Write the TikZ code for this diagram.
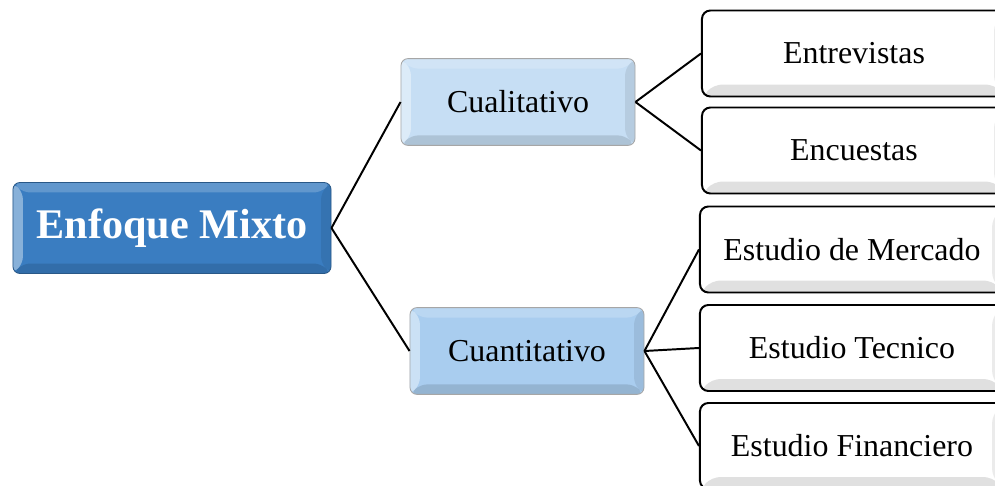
\documentclass[tikz,border=0pt]{standalone}
\usepackage{fontspec}
\setmainfont{Liberation Serif}
\usepackage{xcolor}
\usepackage{tikz}

\definecolor{mixblue}{HTML}{3A7DC1}
\definecolor{cualblue}{HTML}{C6DEF4}
\definecolor{cuanblue}{HTML}{A9CDEF}

\tikzset{
  bevel/.style={path picture={
    % left face
    \fill[white,opacity=.4] (path picture bounding box.south west) -- (path picture bounding box.north west)
      -- ([shift={(#1,-#1)}]path picture bounding box.north west) -- ([shift={(#1,#1)}]path picture bounding box.south west) -- cycle;
    % top face
    \fill[white,opacity=.2] (path picture bounding box.north west) -- (path picture bounding box.north east)
      -- ([shift={(-#1,-#1)}]path picture bounding box.north east) -- ([shift={(#1,-#1)}]path picture bounding box.north west) -- cycle;
    % right face
    \fill[black,opacity=.08] (path picture bounding box.north east) -- (path picture bounding box.south east)
      -- ([shift={(-#1,#1)}]path picture bounding box.south east) -- ([shift={(-#1,-#1)}]path picture bounding box.north east) -- cycle;
    % bottom face
    \fill[black,opacity=.12] (path picture bounding box.south west) -- (path picture bounding box.south east)
      -- ([shift={(-#1,#1)}]path picture bounding box.south east) -- ([shift={(#1,#1)}]path picture bounding box.south west) -- cycle;
  }},
  mainbox/.style={draw=mixblue!70!black, line width=0.6pt, fill=mixblue, rounded corners=5pt,
    bevel=0.25cm, minimum width=7.95cm, minimum height=2.275cm, text=white,
    font=\fontsize{30pt}{34pt}\selectfont\bfseries},
  midbox/.style={draw=gray!70, line width=0.6pt, rounded corners=5pt, bevel=0.25cm,
    minimum width=5.85cm, minimum height=2.17cm, font=\fontsize{22.7pt}{27pt}\selectfont},
  leafbox/.style={draw=black, line width=1.4pt, fill=white, rounded corners=6pt, bevel=0.3cm,
    minimum width=7.6cm, minimum height=2.15cm, font=\fontsize{22.7pt}{27pt}\selectfont},
  conn/.style={line width=1.4pt, black},
}

\begin{document}
\begin{tikzpicture}[x=0.025cm, y=-0.025cm]
  \useasboundingbox (0,0) rectangle (995,486);

  % Root
  \node[mainbox] (mixto) at (172,228) {Enfoque Mixto};

  % Second level
  \node[midbox, fill=cualblue] (cual) at (518,102) {Cualitativo};
  \node[midbox, fill=cuanblue] (cuan) at (527,351) {Cuantitativo};

  % Leaves
  \node[leafbox] (entrev) at (854,53.5) {Entrevistas};
  \node[leafbox] (encues) at (854,150.5) {Encuestas};
  \node[leafbox] (merc) at (852,249.5) {Estudio de Mercado};
  \node[leafbox] (tecn) at (852,348) {Estudio Tecnico};
  \node[leafbox] (finan) at (852,446) {Estudio Financiero};

  % Connectors
  \draw[conn] (mixto.east) -- (cual.west);
  \draw[conn] (mixto.east) -- (cuan.west);
  \draw[conn] (cual.east) -- (entrev.west);
  \draw[conn] (cual.east) -- (encues.west);
  \draw[conn] (cuan.east) -- (merc.west);
  \draw[conn] (cuan.east) -- (tecn.west);
  \draw[conn] (cuan.east) -- (finan.west);
\end{tikzpicture}
\end{document}
